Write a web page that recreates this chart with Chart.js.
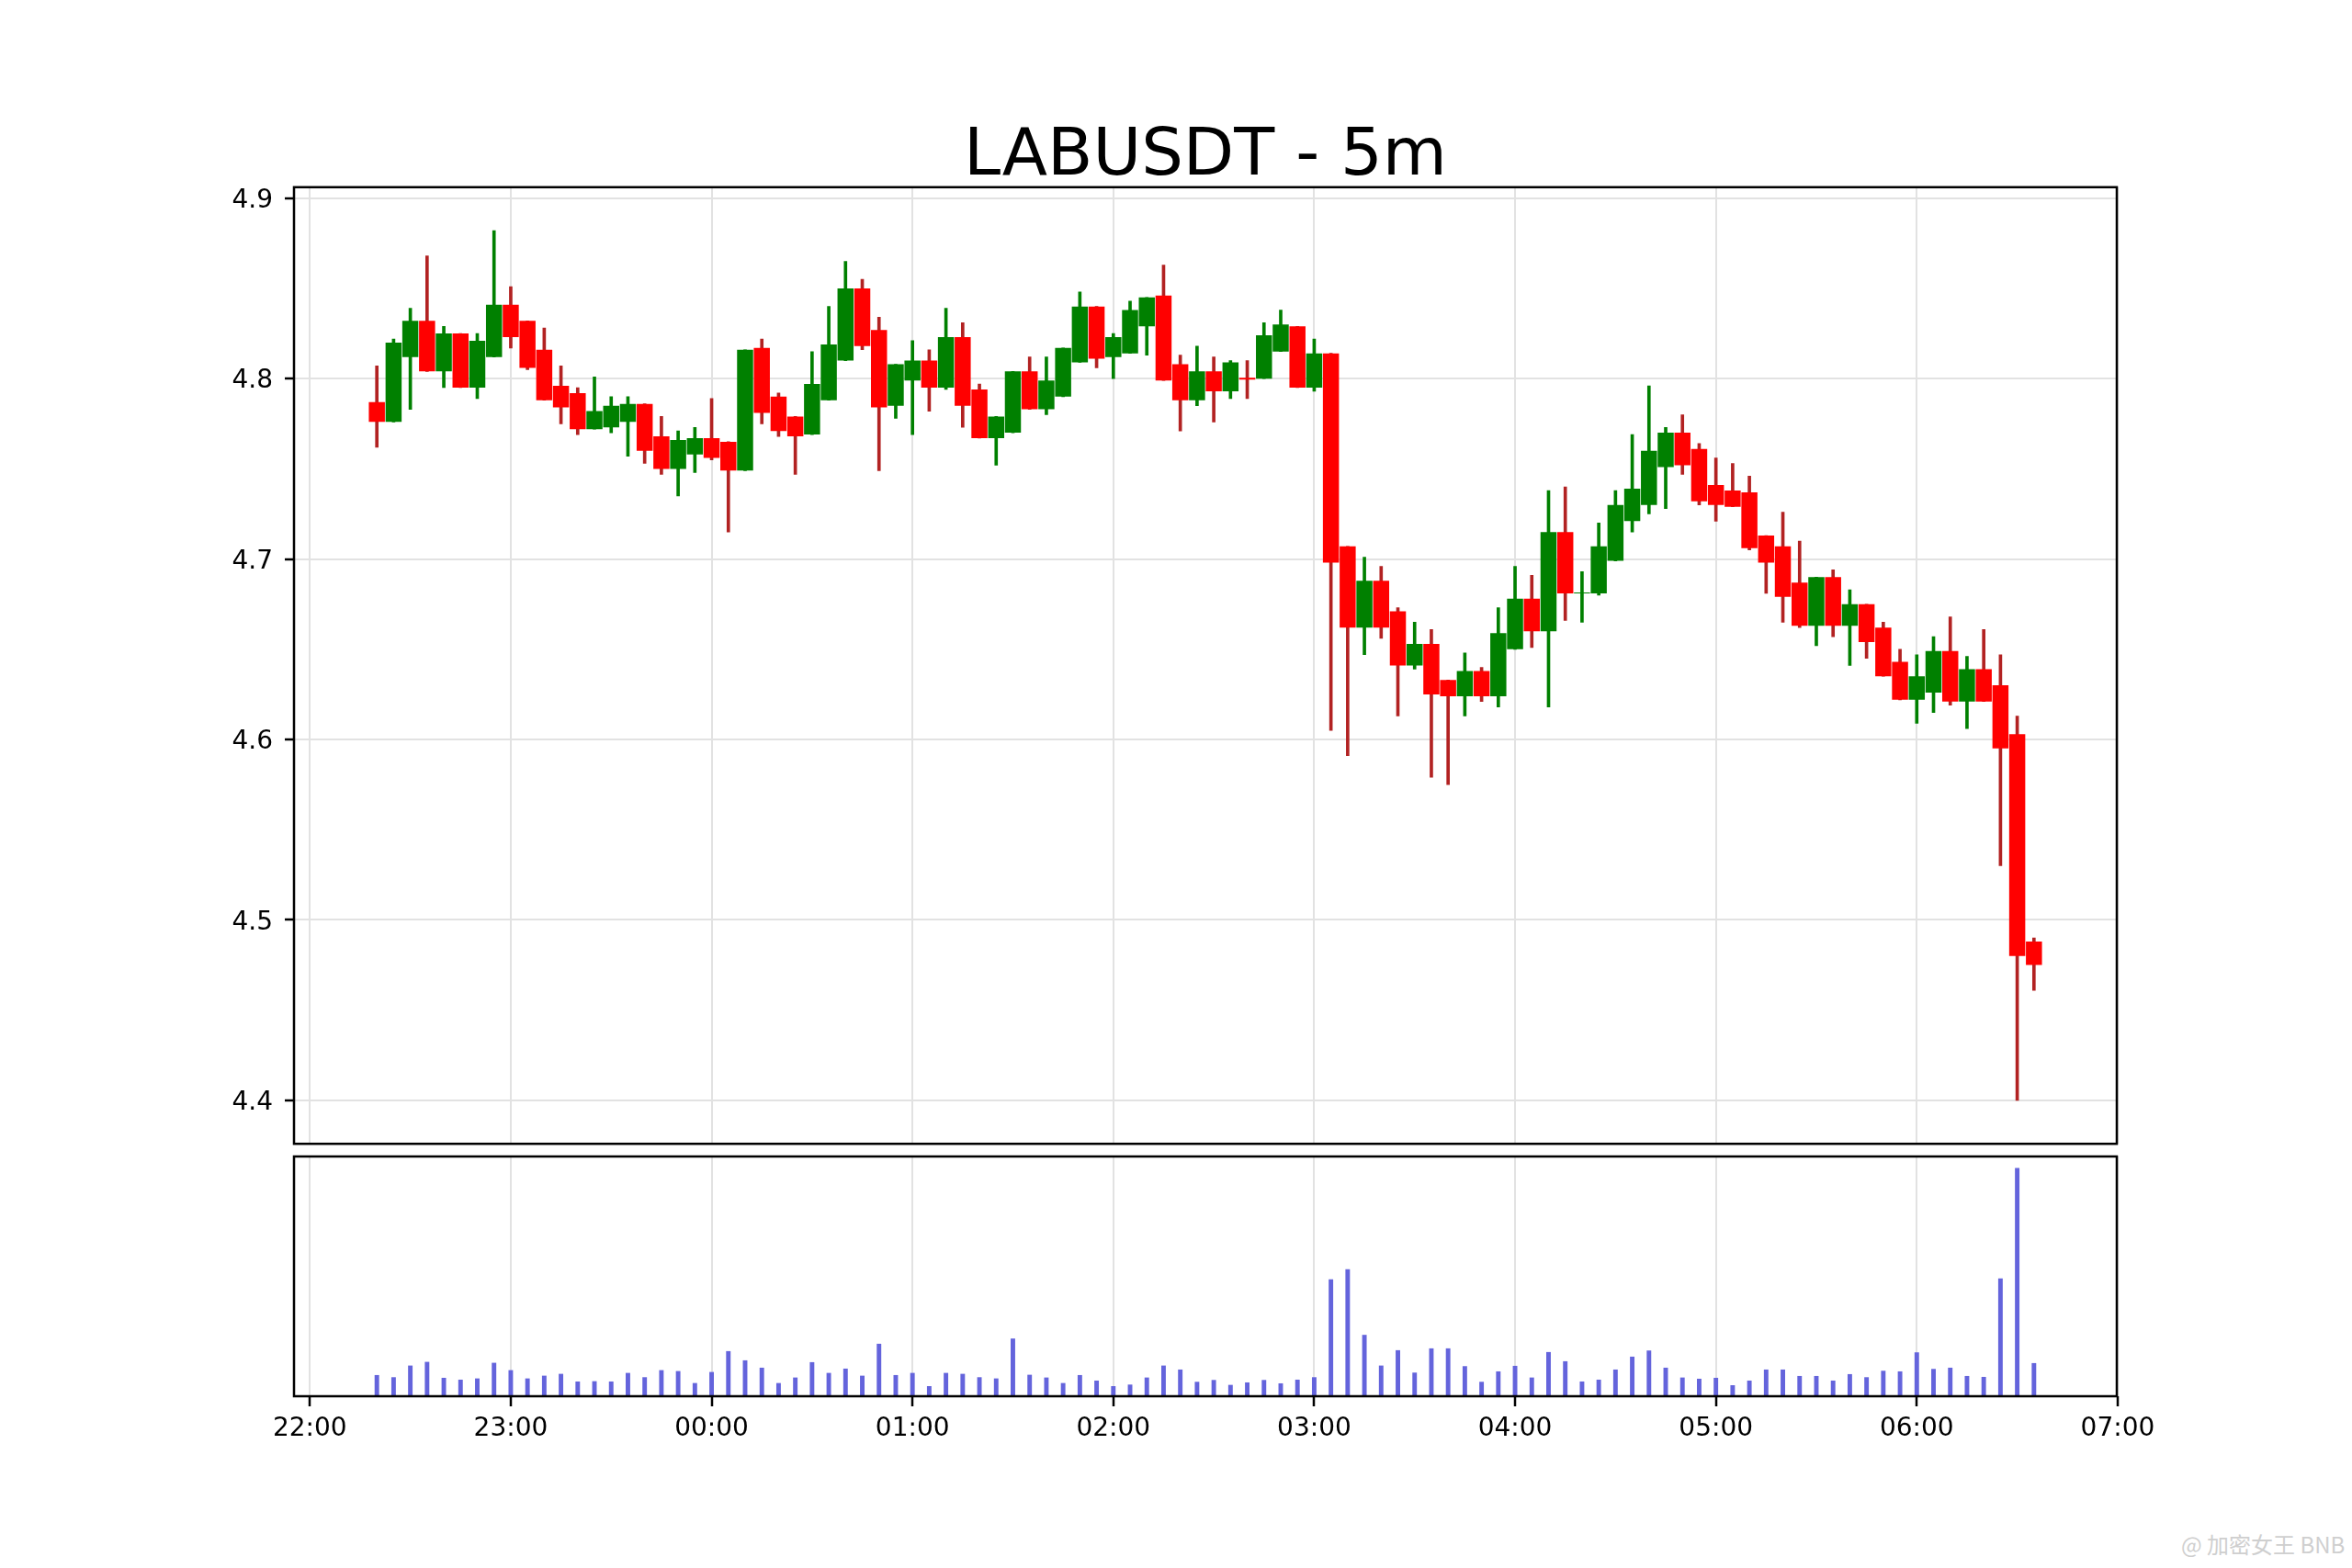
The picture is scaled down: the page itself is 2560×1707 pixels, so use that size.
<!DOCTYPE html>
<html>
<head>
<meta charset="utf-8">
<title>LABUSDT - 5m</title>
<script src="https://cdn.jsdelivr.net/npm/chart.js@4.4.1/dist/chart.umd.min.js"></script>
<style>
  html, body { margin: 0; padding: 0; background: #fff; overflow: hidden; }
  #wrap { position: relative; width: 2560px; height: 1707px; background: #fff; }
  #priceCanvas { position: absolute; left: 0; top: 0; }
  #volumeCanvas { position: absolute; left: 0; top: 1252px; }
  #mark { position: absolute; left: 2374px; top: 1663px; font: 24px "Noto Sans CJK SC", "DejaVu Sans", sans-serif; color: #cfcfcf; white-space: nowrap; }
</style>
</head>
<body>
<div id="wrap">
  <canvas id="priceCanvas" width="2560" height="1275"></canvas>
  <canvas id="volumeCanvas" width="2560" height="338"></canvas>
  <div id="mark">@ 加密女王 BNB</div>
</div>
<script>
// 5m candles, 22:20 -> 06:35
const times = [
  '22:20','22:25','22:30','22:35','22:40','22:45','22:50','22:55',
  '23:00','23:05','23:10','23:15','23:20','23:25','23:30','23:35','23:40','23:45','23:50','23:55',
  '00:00','00:05','00:10','00:15','00:20','00:25','00:30','00:35','00:40','00:45','00:50','00:55',
  '01:00','01:05','01:10','01:15','01:20','01:25','01:30','01:35','01:40','01:45','01:50','01:55',
  '02:00','02:05','02:10','02:15','02:20','02:25','02:30','02:35','02:40','02:45','02:50','02:55',
  '03:00','03:05','03:10','03:15','03:20','03:25','03:30','03:35','03:40','03:45','03:50','03:55',
  '04:00','04:05','04:10','04:15','04:20','04:25','04:30','04:35','04:40','04:45','04:50','04:55',
  '05:00','05:05','05:10','05:15','05:20','05:25','05:30','05:35','05:40','05:45','05:50','05:55',
  '06:00','06:05','06:10','06:15','06:20','06:25','06:30','06:35'
];

const opens = [
  4.787, 4.776, 4.812, 4.832, 4.804, 4.825, 4.795, 4.812, 4.841, 4.832,
  4.816, 4.796, 4.792, 4.772, 4.773, 4.776, 4.786, 4.768, 4.750, 4.758,
  4.767, 4.765, 4.749, 4.817, 4.790, 4.779, 4.769, 4.788, 4.810, 4.850,
  4.827, 4.785, 4.799, 4.810, 4.795, 4.823, 4.794, 4.767, 4.770, 4.804,
  4.783, 4.790, 4.809, 4.840, 4.812, 4.814, 4.829, 4.846, 4.808, 4.788,
  4.804, 4.793, 4.8005, 4.800, 4.815, 4.829, 4.795, 4.814, 4.707, 4.662,
  4.688, 4.671, 4.641, 4.653, 4.633, 4.624, 4.638, 4.624, 4.650, 4.678,
  4.660, 4.715, 4.6810, 4.681, 4.699, 4.721, 4.730, 4.751, 4.770, 4.761,
  4.741, 4.738, 4.737, 4.713, 4.707, 4.687, 4.663, 4.690, 4.663, 4.675,
  4.662, 4.643, 4.622, 4.626, 4.649, 4.621, 4.639, 4.630, 4.603, 4.488
];
const highs = [
  4.807, 4.822, 4.839, 4.868, 4.829, 4.825, 4.825, 4.882, 4.851, 4.832,
  4.828, 4.807, 4.795, 4.801, 4.790, 4.790, 4.786, 4.779, 4.771, 4.773,
  4.789, 4.765, 4.816, 4.822, 4.792, 4.779, 4.815, 4.840, 4.865, 4.855,
  4.834, 4.808, 4.821, 4.816, 4.839, 4.831, 4.797, 4.779, 4.804, 4.812,
  4.812, 4.817, 4.848, 4.840, 4.825, 4.843, 4.845, 4.863, 4.813, 4.818,
  4.812, 4.810, 4.810, 4.831, 4.838, 4.829, 4.822, 4.814, 4.707, 4.701,
  4.696, 4.673, 4.665, 4.661, 4.633, 4.648, 4.640, 4.673, 4.696, 4.691,
  4.738, 4.740, 4.693, 4.720, 4.738, 4.769, 4.796, 4.773, 4.780, 4.764,
  4.756, 4.753, 4.746, 4.713, 4.726, 4.710, 4.690, 4.694, 4.683, 4.675,
  4.665, 4.650, 4.647, 4.657, 4.668, 4.646, 4.661, 4.647, 4.613, 4.490
];
const lows = [
  4.762, 4.776, 4.783, 4.804, 4.795, 4.795, 4.789, 4.812, 4.817, 4.805,
  4.788, 4.775, 4.769, 4.772, 4.770, 4.757, 4.753, 4.747, 4.735, 4.748,
  4.755, 4.715, 4.749, 4.775, 4.768, 4.747, 4.769, 4.788, 4.810, 4.816,
  4.749, 4.778, 4.769, 4.782, 4.794, 4.773, 4.767, 4.752, 4.770, 4.783,
  4.780, 4.790, 4.809, 4.806, 4.800, 4.814, 4.813, 4.799, 4.771, 4.785,
  4.776, 4.789, 4.789, 4.800, 4.815, 4.795, 4.793, 4.605, 4.591, 4.647,
  4.656, 4.613, 4.639, 4.579, 4.575, 4.613, 4.621, 4.618, 4.650, 4.651,
  4.618, 4.666, 4.665, 4.680, 4.699, 4.715, 4.725, 4.728, 4.747, 4.730,
  4.721, 4.729, 4.705, 4.681, 4.665, 4.662, 4.652, 4.657, 4.641, 4.645,
  4.635, 4.622, 4.609, 4.615, 4.619, 4.606, 4.621, 4.530, 4.400, 4.461
];
const closes = [
  4.776, 4.820, 4.832, 4.804, 4.825, 4.795, 4.821, 4.841, 4.823, 4.806,
  4.788, 4.784, 4.772, 4.782, 4.785, 4.786, 4.760, 4.750, 4.766, 4.767,
  4.756, 4.749, 4.816, 4.781, 4.771, 4.768, 4.797, 4.819, 4.850, 4.818,
  4.784, 4.808, 4.810, 4.795, 4.823, 4.785, 4.767, 4.779, 4.804, 4.783,
  4.799, 4.817, 4.840, 4.811, 4.823, 4.838, 4.845, 4.799, 4.788, 4.804,
  4.793, 4.809, 4.7995, 4.824, 4.830, 4.795, 4.814, 4.698, 4.662, 4.688,
  4.662, 4.641, 4.653, 4.625, 4.624, 4.638, 4.624, 4.659, 4.678, 4.660,
  4.715, 4.681, 4.6815, 4.707, 4.730, 4.739, 4.760, 4.770, 4.752, 4.732,
  4.730, 4.729, 4.706, 4.698, 4.679, 4.663, 4.690, 4.663, 4.675, 4.654,
  4.635, 4.622, 4.635, 4.649, 4.621, 4.639, 4.621, 4.595, 4.480, 4.475
];
// volume panel has no tick labels, so these are relative heights
const volumes = [
  69, 62, 100, 112, 60, 54, 58, 109, 85, 58,
  67, 73, 48, 49, 48, 76, 62, 85, 82, 43,
  79, 147, 117, 93, 43, 61, 111, 76, 90, 67,
  171, 69, 76, 33, 76, 73, 62, 58, 188, 70,
  61, 43, 69, 51, 33, 38, 61, 100, 87, 47,
  53, 37, 45, 53, 42, 54, 62, 381, 414, 200,
  100, 150, 77, 156, 156, 98, 47, 81, 99, 61,
  144, 114, 48, 54, 87, 129, 149, 93, 61, 57,
  60, 36, 51, 87, 87, 66, 66, 51, 72, 62,
  83, 81, 143, 89, 93, 66, 63, 384, 744, 108
];

const priceTicks = [4.4, 4.5, 4.6, 4.7, 4.8, 4.9];
const timeTicks = ['22:00', '23:00', '00:00', '01:00', '02:00', '03:00', '04:00', '05:00', '06:00', '07:00'];

const FONT = '"DejaVu Sans", sans-serif';
const GRID = '#e2e2e2';
const UP = '#008000', DOWN = '#ff0000', UP_WICK = '#008000', DOWN_WICK = '#b22222';
const VOL = '#6464dc';

// minutes after 22:00 (wraps past midnight)
function toMinutes(t) {
  const [h, m] = t.split(':').map(Number);
  return ((h * 60 + m) - 22 * 60 + 1440) % 1440;
}

const xs = times.map(toMinutes);
const isUp = closes.map((c, i) => c >= opens[i]);

// matplotlib-like 5% margins
const xSpan = xs[xs.length - 1] - xs[0];
const xMin = xs[0] - xSpan * 0.05;
const xMax = xs[xs.length - 1] + xSpan * 0.05;
const lo = Math.min(...lows), hi = Math.max(...highs);
const yMin = lo - (hi - lo) * 0.05;
const yMax = hi + (hi - lo) * 0.05;

const framePlugin = {
  id: 'frame',
  afterDraw(chart) {
    const { ctx, chartArea: a } = chart;
    ctx.save();
    ctx.strokeStyle = '#000';
    ctx.lineWidth = 2.5;
    ctx.strokeRect(a.left, a.top, a.right - a.left, a.bottom - a.top);
    ctx.restore();
  }
};

function timeAxis(showLabels) {
  return {
    type: 'linear',
    min: xMin,
    max: xMax,
    offset: false,
    afterBuildTicks: s => { s.ticks = timeTicks.map(t => ({ value: toMinutes(t) })); },
    afterFit: s => { s.height = showLabels ? 70 : 0; },
    grid: { color: GRID, lineWidth: 2, offset: false, drawTicks: showLabels, tickColor: '#000', tickLength: 11, tickWidth: 2.5 },
    border: { display: false },
    ticks: {
      display: showLabels, autoSkip: false, maxRotation: 0, padding: 8,
      color: '#000', font: { family: FONT, size: 28 },
      callback: (v, i) => timeTicks[i]
    }
  };
}

const common = {
  responsive: false,
  devicePixelRatio: 1,
  animation: false,
  events: []
};

new Chart(document.getElementById('priceCanvas'), {
  type: 'bar',
  data: {
    datasets: [
      {
        label: 'body',
        data: xs.map((x, i) => ({ x, y: [opens[i], closes[i]] })),
        backgroundColor: isUp.map(u => u ? UP : DOWN),
        borderWidth: 0,
        barPercentage: 0.96,
        categoryPercentage: 1,
        grouped: false,
        order: 1
      },
      {
        label: 'wick',
        data: xs.map((x, i) => ({ x, y: [lows[i], highs[i]] })),
        backgroundColor: isUp.map(u => u ? UP_WICK : DOWN_WICK),
        borderWidth: 0,
        barThickness: 3,
        grouped: false,
        order: 2
      }
    ]
  },
  options: {
    ...common,
    // y tick labels reserve ~29px under the plot, so the canvas runs past 1246
    layout: { padding: { left: 0, right: 256, top: 0, bottom: 0 } },
    plugins: {
      legend: { display: false },
      tooltip: { enabled: false },
      title: {
        display: true,
        fullSize: false,
        text: 'LABUSDT - 5m',
        color: '#000',
        font: { family: FONT, size: 72, weight: 'normal', lineHeight: 0.9 },
        padding: { top: 139, bottom: 0 }
      }
    },
    scales: {
      x: timeAxis(false),
      y: {
        min: yMin,
        max: yMax,
        afterBuildTicks: s => { s.ticks = priceTicks.map(v => ({ value: v })); },
        afterFit: s => { s.width = 320; },
        grid: { color: GRID, lineWidth: 2, tickColor: '#000', tickLength: 10, tickWidth: 2.5 },
        border: { display: false },
        ticks: {
          padding: 13, labelOffset: 3, color: '#000',
          font: { family: FONT, size: 28 },
          callback: v => v.toFixed(1)
        }
      }
    }
  },
  plugins: [framePlugin]
});

new Chart(document.getElementById('volumeCanvas'), {
  type: 'bar',
  data: {
    datasets: [{
      label: 'volume',
      data: xs.map((x, i) => ({ x, y: volumes[i] })),
      backgroundColor: VOL,
      borderWidth: 0,
      barPercentage: 0.27,
      categoryPercentage: 1
    }]
  },
  options: {
    ...common,
    layout: { padding: { left: 0, right: 256, top: 7, bottom: 0 } },
    plugins: { legend: { display: false }, tooltip: { enabled: false } },
    scales: {
      x: timeAxis(true),
      y: {
        min: 0,
        max: Math.max(...volumes) * 1.05,
        afterFit: s => { s.width = 320; },
        grid: { display: false },
        border: { display: false },
        ticks: { display: false }
      }
    }
  },
  plugins: [framePlugin]
});
</script>
</body>
</html>
